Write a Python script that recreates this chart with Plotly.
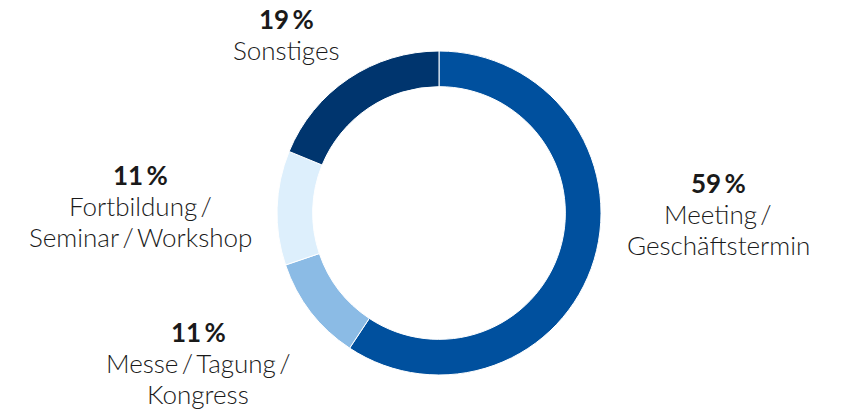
import plotly.graph_objects as go

categories = ["Meeting / Geschäftstermin", "Messe / Tagung / Kongress",
              "Fortbildung / Seminar / Workshop", "Sonstiges"]
values = [59.3, 10.5, 11.4, 18.8]
pct_labels = ["59\u2009%", "11\u2009%", "11\u2009%", "19\u2009%"]
S = "\u2009/\u2009"
label_lines = [["Meeting\u2009/", "Geschäftstermin"],
               ["Messe" + S + "Tagung\u2009/", "Kongress"],
               ["Fortbildung\u2009/", "Seminar" + S + "Workshop"],
               ["Sonstiges"]]
colors = ["#00509E", "#8BBBE5", "#DDEFFC", "#00356E"]

W, H = 846, 411
OFF = 8  # page body margin
cx, cy, r = 439 - OFF, 213 - OFF, 162

fig = go.Figure(go.Pie(
    labels=categories, values=values, sort=False, direction="clockwise",
    rotation=0, hole=0.78, textinfo="none", hoverinfo="label+percent",
    marker=dict(colors=colors, line=dict(color="white", width=1)),
    domain=dict(x=[(cx - r) / W, (cx + r) / W],
                y=[(H - cy - r) / H, (H - cy + r) / H]),
    showlegend=False,
))

# label layout: center x and baseline of first line (pixels), line step
label_pos = [(718, 193), (198, 342), (140, 185), (286, 29)]
STEP = 31
SIZE = 26
font = "Lato, 'Open Sans', sans-serif"
MID = 0.387 * SIZE  # baseline -> text-box middle
for (px, base), p, lines in zip(label_pos, pct_labels, label_lines):
    all_lines = [("<b>" + p + "</b>", 700)] + [(t, 300) for t in lines]
    for i, (t, wt) in enumerate(all_lines):
        yb = base + i * STEP
        fig.add_annotation(x=(px - OFF) / W, y=1 - (yb - MID - OFF) / H,
                           xref="paper", yref="paper",
                           xanchor="center", yanchor="middle",
                           showarrow=False, text=t, align="center",
                           font=dict(family=font, size=SIZE, color="#1a1a1a",
                                     weight=wt))

fig.update_layout(width=W, height=H, margin=dict(l=0, r=0, t=0, b=0),
                  paper_bgcolor="white", plot_bgcolor="white")
fig.write_html("out.html")
